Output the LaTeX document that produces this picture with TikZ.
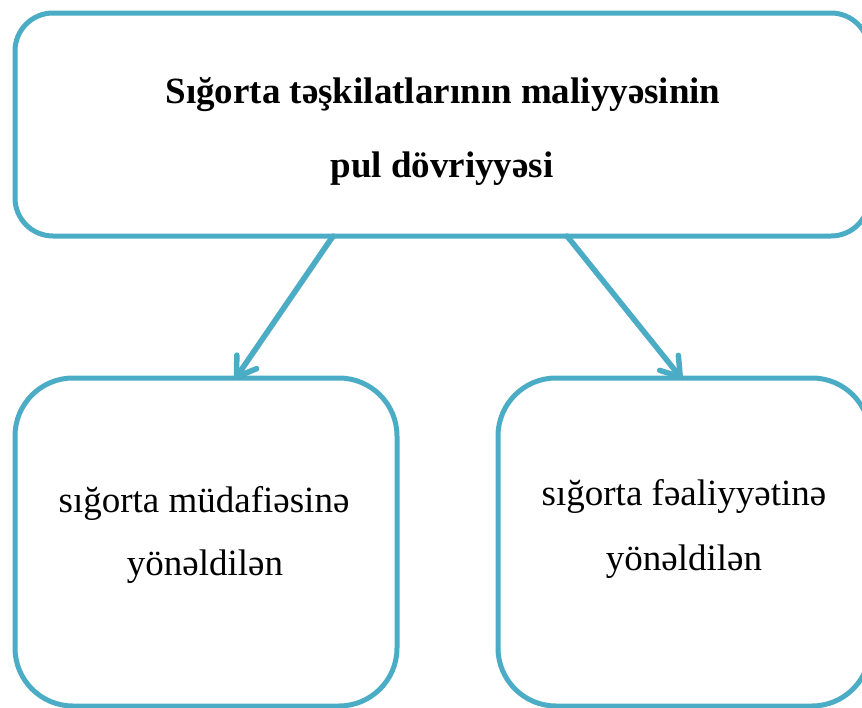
\documentclass[tikz,border=0pt]{standalone}
\usepackage{fontspec}
\setmainfont{Liberation Serif}
\usetikzlibrary{arrows.meta}
\definecolor{accent}{HTML}{4BACC6}
\begin{document}
\begin{tikzpicture}[x=1pt,y=-1pt,
  panel/.style={draw=accent, line width=5pt, rounded corners=#1, fill=white,
    outer sep=0pt, inner sep=0pt},
  headtext/.style={font=\fontsize{37pt}{44pt}\selectfont\bfseries, inner sep=0pt},
  bodytext/.style={font=\fontsize{37pt}{44pt}\selectfont, inner sep=0pt},
  flow/.style={draw=accent, line width=5.5pt, line cap=round,
    -{Straight Barb[length=18pt,width=24pt,round]},
    preaction={draw=black, opacity=0.22, transform canvas={xshift=2pt,yshift=-2pt}}}
]
\useasboundingbox (0,0) rectangle (862,707);
\begin{scope}
  \clip (0,0) rectangle (862,707);
  % boxes
  \node[panel=38pt, minimum width=854pt, minimum height=223pt] (top) at (442,124.5) {};
  \node[panel=58pt, minimum width=382pt, minimum height=328pt] (left) at (206,542) {};
  \node[panel=58pt, minimum width=372pt, minimum height=328pt] (right) at (684,542) {};
  % labels
  \node[headtext, anchor=base] (h1) at (443,103) {Sığorta təşkilatlarının maliyyəsinin};
  \node[headtext, anchor=base] (h2) at (442,177) {pul dövriyyəsi};
  \node[bodytext, anchor=base] (l1) at (204,512) {sığorta müdafiəsinə};
  \node[bodytext, anchor=base] (l2) at (205,575) {yönəldilən};
  \node[bodytext, anchor=base] (r1) at (684,505) {sığorta fəaliyyətinə};
  \node[bodytext, anchor=base] (r2) at (684,570) {yönəldilən};
  % connectors
  \draw[flow] ([xshift=-109pt]top.south) -- ([xshift=29pt,yshift=-1pt]left.north);
  \draw[flow] ([xshift=125pt]top.south) -- ([xshift=-2pt,yshift=-1pt]right.north);
\end{scope}
\end{tikzpicture}
\end{document}
